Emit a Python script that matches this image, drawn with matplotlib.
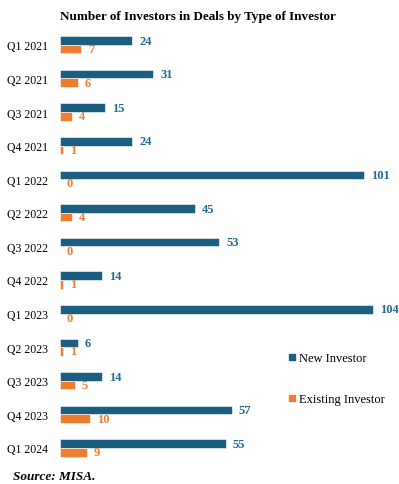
import numpy as np
import matplotlib
matplotlib.use('Agg')
import matplotlib.pyplot as plt
from matplotlib.lines import Line2D

plt.rcParams['font.family'] = 'Liberation Serif'

quarters = ['Q1 2021', 'Q2 2021', 'Q3 2021', 'Q4 2021', 'Q1 2022', 'Q2 2022', 'Q3 2022',
            'Q4 2022', 'Q1 2023', 'Q2 2023', 'Q3 2023', 'Q4 2023', 'Q1 2024']
new_investor = [24, 31, 15, 24, 101, 45, 53, 14, 104, 6, 14, 57, 55]
existing_investor = [7, 6, 4, 1, 0, 4, 0, 1, 0, 1, 5, 10, 9]

blue = '#1b5e80'
orange = '#ed7d31'

fig = plt.figure(figsize=(3.99, 4.85), dpi=100)
ax = fig.add_axes([0.1504, 0.0396, 0.8296, 0.9006])

y = np.arange(len(quarters))
h = 0.255
ax.barh(y - h / 2, new_investor, height=h, color=blue, edgecolor='white', linewidth=0.4)
ax.barh(y + h / 2, existing_investor, height=h, color=orange, edgecolor='white', linewidth=0.4)

for i in range(len(quarters)):
    ax.annotate(str(new_investor[i]), (new_investor[i], y[i] - h / 2), xytext=(5, 0),
                textcoords='offset points', va='center', ha='left',
                fontsize=9, fontweight='bold', color='#236a8c')
    ax.annotate(str(existing_investor[i]), (existing_investor[i], y[i] + h / 2), xytext=(5, 0),
                textcoords='offset points', va='center', ha='left',
                fontsize=9, fontweight='bold', color=orange)

ax.set_xlim(0, 110)
ax.set_ylim(len(quarters) - 0.5, -0.5)
ax.set_yticks(y)
ax.set_yticklabels(quarters, fontsize=8.5)
ax.tick_params(axis='y', length=0, pad=8.5)
ax.set_xticks([])
for s in ax.spines.values():
    s.set_visible(False)

handles = [Line2D([], [], marker='s', linestyle='none', markersize=4.5, color=blue),
           Line2D([], [], marker='s', linestyle='none', markersize=4.5, color=orange)]
ax.legend(handles, ['New Investor', 'Existing Investor'], loc='upper left',
          bbox_to_anchor=(288 / 399, 1 - 353 / 485), bbox_transform=fig.transFigure,
          frameon=False, borderpad=0, borderaxespad=0, handlelength=0.6,
          handletextpad=0.25, labelspacing=2.35, fontsize=9)

fig.text(0.495, 1 - 17 / 485, 'Number of Investors in Deals by Type of Investor',
         ha='center', va='center', fontsize=9.45, fontweight='bold')
fig.text(13 / 399, 1 - 477 / 485, 'Source: MISA.', ha='left', va='center',
         fontsize=9.5, fontweight='bold', fontstyle='italic')

fig.savefig('out.png', dpi=100)
